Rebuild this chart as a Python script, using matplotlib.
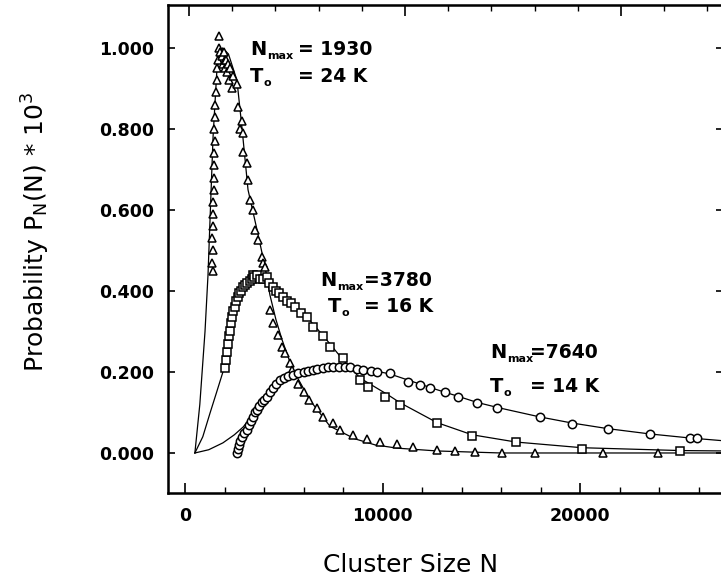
import matplotlib
matplotlib.use("Agg")
import matplotlib.pyplot as plt
from matplotlib.ticker import MultipleLocator, FixedLocator, NullFormatter

# ---------------- data ----------------
# T0 = 24 K, Nmax = 1930  (triangles)
tri_N = [1400, 1380, 1420, 1390, 1430, 1440, 1420, 1460, 1450, 1480, 1470, 1500, 1490,
         1520, 1540, 1560, 1600, 1620, 1650, 1700, 1720, 1780, 1850, 1900, 1950, 2000,
         2050, 2100, 2150, 2200, 2250, 2300, 2380, 2450, 2630, 2680, 2785, 2890, 2940,
         2940, 3140, 3190, 3290, 3440, 3545, 3700, 3900, 3950, 4050, 4300, 4460, 4710,
         4910, 5060, 5320, 5420, 5700, 6000, 6300, 6700, 7000, 7500, 7850, 8500, 9200,
         9870, 10730, 11540, 12760, 13670, 14680, 16050, 17720, 21160, 23950]
tri_P = [0.45, 0.47, 0.50, 0.53, 0.56, 0.59, 0.62, 0.65, 0.68, 0.71, 0.74, 0.77, 0.80,
         0.83, 0.86, 0.89, 0.92, 0.95, 0.97, 1.00, 1.03, 0.99, 0.98, 0.96, 0.99, 0.97,
         0.95, 0.97, 0.94, 0.96, 0.92, 0.95, 0.90, 0.93, 0.91, 0.855, 0.80, 0.82, 0.79,
         0.743, 0.716, 0.674, 0.625, 0.60, 0.55, 0.526, 0.484, 0.469, 0.459, 0.353, 0.321,
         0.291, 0.262, 0.247, 0.222, 0.205, 0.17, 0.15, 0.13, 0.11, 0.09, 0.074, 0.057,
         0.044, 0.035, 0.028, 0.022, 0.015, 0.008, 0.004, 0.002, 0.0, 0.0, 0.0, 0.0]
tri_fit_N = [500, 750, 1013, 1165, 1420, 1620, 1900, 2200, 2630, 2890, 3190, 3650, 4050,
             4300, 4600, 4910, 5420, 6330, 7340, 8600, 9620, 10730, 12760, 14680, 16000, 27300]
tri_fit_P = [0.0, 0.12, 0.30, 0.44, 0.78, 0.95, 1.0, 0.985, 0.92, 0.80, 0.65, 0.55, 0.46,
             0.39, 0.33, 0.28, 0.21, 0.13, 0.066, 0.035, 0.02, 0.012, 0.005, 0.002, 0.0, 0.0]

# T0 = 16 K, Nmax = 3780  (squares)
sq_N = [2030, 2080, 2120, 2180, 2230, 2280, 2330, 2400, 2450, 2530, 2600, 2680, 2750,
        2850, 2940, 3050, 3150, 3300, 3390, 3440, 3500, 3650, 3800, 3950, 4150, 4250,
        4460, 4600, 4750, 4960, 5150, 5350, 5570, 5850, 6180, 6500, 6990, 7340, 8000,
        8860, 9270, 10130, 10890, 12760, 14530, 16760, 20100, 25060]
sq_P = [0.21, 0.23, 0.25, 0.27, 0.29, 0.30, 0.32, 0.335, 0.35, 0.36, 0.375, 0.385, 0.395,
        0.40, 0.41, 0.415, 0.42, 0.425, 0.43, 0.44, 0.435, 0.44, 0.43, 0.43, 0.435, 0.42,
        0.41, 0.40, 0.395, 0.385, 0.375, 0.37, 0.36, 0.345, 0.336, 0.31, 0.29, 0.262, 0.234,
        0.18, 0.163, 0.138, 0.119, 0.073, 0.043, 0.028, 0.01, 0.005]
sq_fit_N = [500, 900, 1270, 1600, 1920, 2280, 2530, 2940, 3390, 3780, 4460, 4960, 5570,
            6180, 6990, 8000, 8860, 10230, 10890, 12760, 14530, 16760, 20100, 25060, 27300]
sq_fit_P = [0.0, 0.04, 0.099, 0.15, 0.20, 0.29, 0.345, 0.405, 0.43, 0.435, 0.41, 0.385,
            0.36, 0.335, 0.29, 0.23, 0.185, 0.145, 0.124, 0.075, 0.045, 0.027, 0.013, 0.006, 0.005]

# T0 = 14 K, Nmax = 7640  (circles)
ci_N = [2630, 2700, 2750, 2800, 2900, 3000, 3140, 3250, 3350, 3450, 3550, 3650, 3750,
        3900, 4000, 4150, 4300, 4450, 4600, 4810, 5000, 5200, 5470, 5700, 6000, 6250,
        6480, 6700, 7000, 7250, 7490, 7800, 8100, 8350, 8700, 9010, 9400, 9700, 10380,
        11290, 11900, 12410, 13160, 13820, 14780, 15800, 17970, 19590, 21420, 23540,
        25570, 25900]
ci_P = [0.0, 0.01, 0.02, 0.03, 0.04, 0.05, 0.057, 0.07, 0.08, 0.09, 0.10, 0.106, 0.115,
        0.125, 0.13, 0.138, 0.15, 0.16, 0.17, 0.18, 0.185, 0.19, 0.193, 0.197, 0.20, 0.203,
        0.205, 0.208, 0.21, 0.212, 0.212, 0.213, 0.212, 0.212, 0.208, 0.205, 0.203, 0.20,
        0.198, 0.175, 0.168, 0.16, 0.151, 0.138, 0.123, 0.111, 0.089, 0.072, 0.059, 0.046,
        0.038, 0.036]
ci_fit_N = [500, 1200, 1920, 2500, 2940, 3650, 4810, 5470, 6480, 7640, 9220, 10380, 11540,
            12510, 13820, 14780, 15850, 17970, 19590, 21420, 23540, 25570, 27300]
ci_fit_P = [0.0, 0.008, 0.025, 0.045, 0.064, 0.106, 0.175, 0.193, 0.205, 0.213, 0.207,
            0.195, 0.176, 0.160, 0.140, 0.125, 0.112, 0.089, 0.074, 0.060, 0.047, 0.037, 0.03]

x_ticks_major = [0, 10000, 20000]
x_tick_labels = ["0", "10000", "20000"]
y_ticks = [0.0, 0.2, 0.4, 0.6, 0.8, 1.0]
y_tick_labels = ["0.000", "0.200", "0.400", "0.600", "0.800", "1.000"]

# ---------------- figure ----------------
W, H = 721, 586
fig = plt.figure(figsize=(W / 100, H / 100), dpi=100)
L, R, B, T = 168, 723, 493, 5
ax = fig.add_axes([L / W, (H - B) / H, (R - L) / W, (B - T) / H])

lw_fit = 0.9
ax.plot(tri_fit_N, tri_fit_P, color="black", lw=lw_fit, zorder=2)
ax.plot(sq_fit_N, sq_fit_P, color="black", lw=lw_fit, zorder=2)
ax.plot(ci_fit_N, ci_fit_P, color="black", lw=lw_fit, zorder=2)

mk = dict(linestyle="none", markerfacecolor="white", markeredgecolor="black",
          markeredgewidth=1.1, zorder=3)
ax.plot(tri_N, tri_P, marker="^", markersize=6, **mk)
ax.plot(sq_N, sq_P, marker="s", markersize=5.5, **mk)
ax.plot(ci_N, ci_P, marker="o", markersize=6, **mk)

ax.set_xlim(-861, 27240)
ax.set_ylim(-0.0988, 1.106)

tick_font = dict(family="DejaVu Sans", weight="bold", size=12.5)
ax.set_xticks(x_ticks_major)
ax.set_xticklabels(x_tick_labels, fontdict=tick_font)
ax.xaxis.set_minor_locator(MultipleLocator(2000))
ax.set_yticks(y_ticks)
ax.set_yticklabels(y_tick_labels, fontdict=tick_font)
ax.tick_params(axis="x", which="major", direction="in", length=7, width=1.2, pad=10,
               top=False)
ax.tick_params(axis="x", which="minor", direction="in", length=4, width=1.0, top=False)
ax.tick_params(axis="y", which="major", direction="in", length=5, width=1.2, pad=10,
               right=True)
for s in ax.spines.values():
    s.set_linewidth(1.8)

# top axis with its own tick spacing (no labels)
axt = ax.twiny()
axt.set_xlim(L, R)
axt.xaxis.set_major_locator(FixedLocator([189, 405, 621]))
axt.xaxis.set_minor_locator(FixedLocator([189 + 43.2 * k for k in range(13)]))
axt.xaxis.set_major_formatter(NullFormatter())
axt.tick_params(axis="x", which="major", direction="in", length=8, width=1.2)
axt.tick_params(axis="x", which="minor", direction="in", length=4, width=1.0)


# annotations (pixel coordinates -> figure fraction)
def ftxt(px, py, s, size=13.5, weight="bold"):
    fig.text(px / W, 1 - py / H, s, fontsize=size, fontweight=weight,
             family="DejaVu Sans", va="baseline", ha="left")


def symbol(px, py, big, sub, sub_dx):
    ftxt(px, py, big, size=14)
    ftxt(px + sub_dx, py + 4, sub, size=8, weight="bold")


symbol(250, 55, "N", "max", 17)
ftxt(298, 55, "= 1930")
symbol(250, 82, "T", "o", 14)
ftxt(298, 82, "= 24 K")

symbol(320, 286, "N", "max", 17)
ftxt(364, 286, "=3780")
symbol(328, 312, "T", "o", 14)
ftxt(364, 312, "= 16 K")

symbol(490, 358, "N", "max", 17)
ftxt(530, 358, "=7640")
symbol(490, 392, "T", "o", 14)
ftxt(530, 392, "= 14 K")

fig.text(411 / W, 1 - 565 / H, "Cluster Size N", fontsize=18, family="DejaVu Sans",
         ha="center", va="center")
fig.text(36 / W, 1 - 232 / H, r"Probability P$_\mathregular{N}$(N) * 10$^\mathregular{3}$",
         fontsize=18, family="DejaVu Sans", rotation=90, ha="center", va="center")

fig.savefig("out.png", dpi=100)
